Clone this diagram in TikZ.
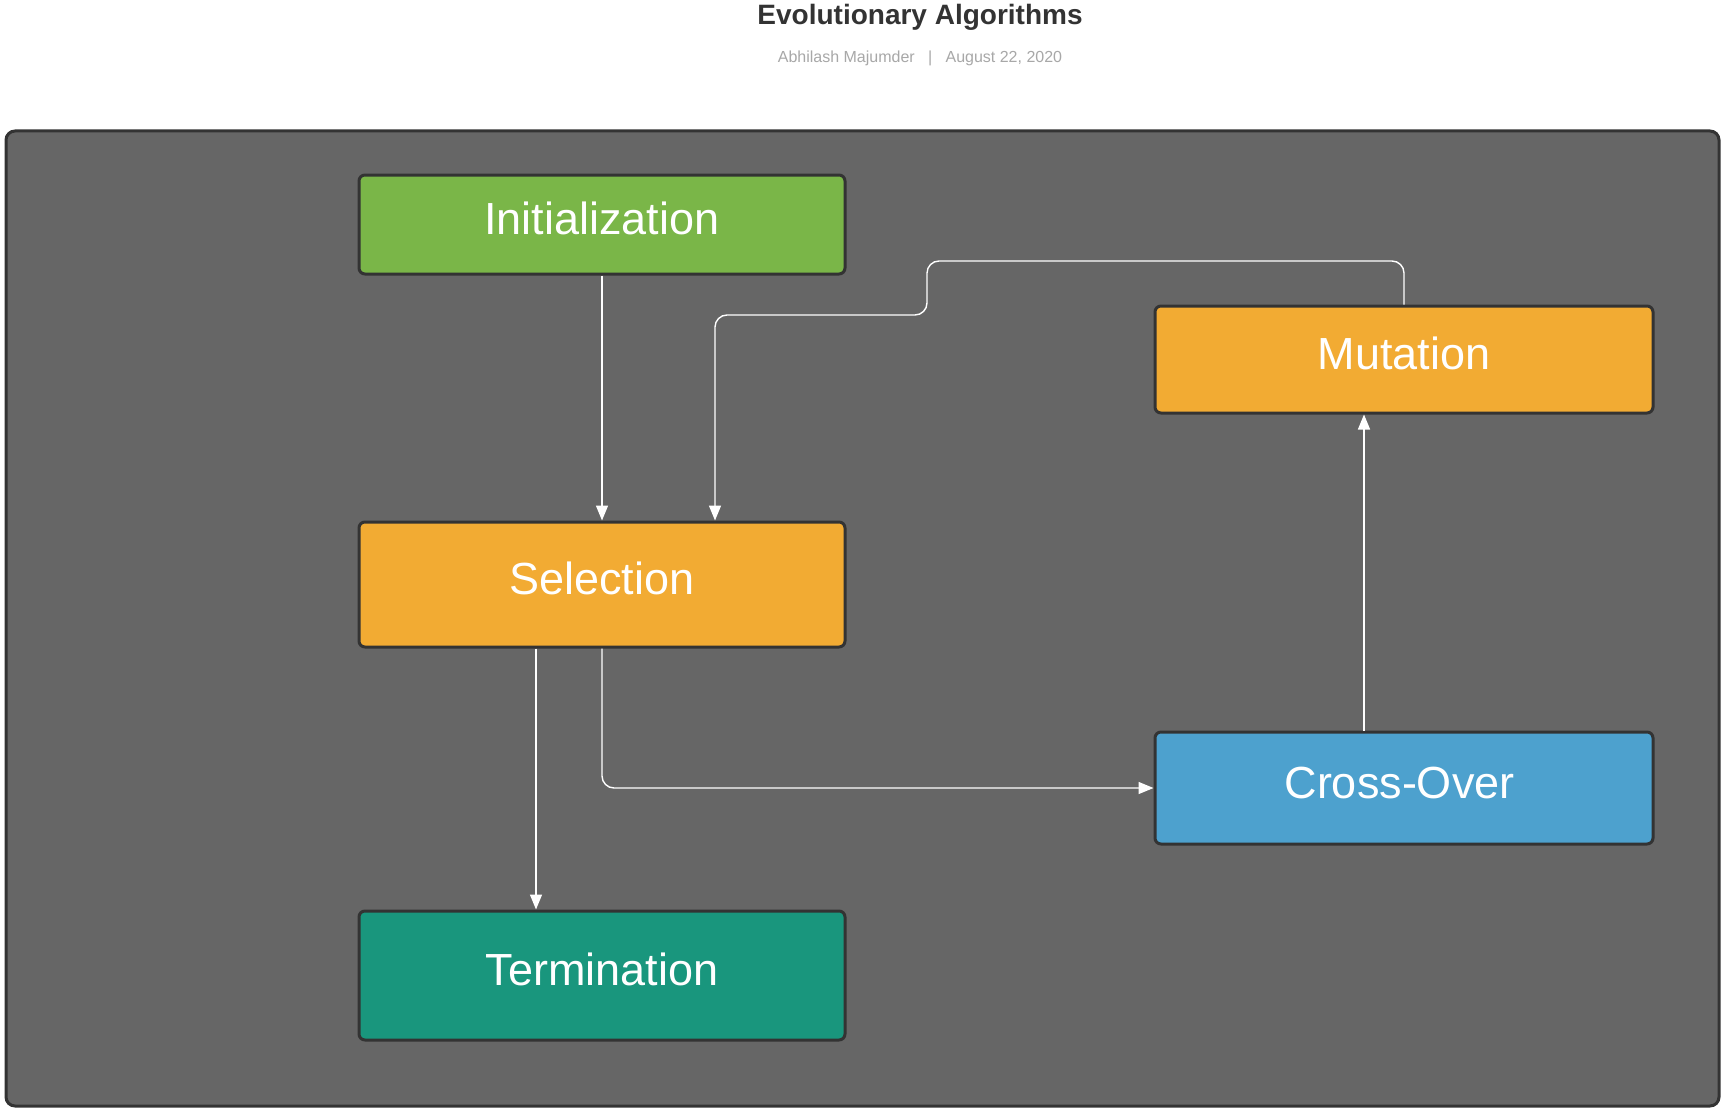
\documentclass[tikz,border=0pt]{standalone}
\usepackage{fontspec}
\setmainfont{Liberation Sans}
\usetikzlibrary{arrows.meta,calc}
\definecolor{panelbg}{HTML}{666666}
\definecolor{edgecol}{HTML}{333333}
\definecolor{initgreen}{HTML}{7AB648}
\definecolor{orangebox}{HTML}{F2AB33}
\definecolor{tealbox}{HTML}{19967D}
\definecolor{bluebox}{HTML}{4DA1CE}
\definecolor{titlecol}{HTML}{333333}
\definecolor{subcol}{HTML}{A8A8A8}
\begin{document}
\begin{tikzpicture}[x=1pt,y=-1pt,
  box/.style={draw=edgecol, line width=3pt, rounded corners=6pt, text=white,
    font=\fontsize{45}{54}\selectfont, text height=32pt, text depth=12pt, inner sep=0pt},
  conn/.style={draw=white, line width=1.4pt, rounded corners=12pt,
    -{Triangle[length=15pt,width=12pt]}}
]
\useasboundingbox (0,0) rectangle (1726,1113);
\fill[white] (0,0) rectangle (1726,1113);
% title
\node[font=\bfseries\fontsize{28}{32}\selectfont, text=titlecol] (title) at (920,17.5) {Evolutionary Algorithms};
\node[font=\fontsize{16}{19}\selectfont, text=subcol] (subtitle) at (920,58) {Abhilash Majumder\ \ \ |\ \ \ August 22, 2020};
% panel
\node[draw=edgecol, fill=panelbg, line width=3pt, rounded corners=9pt,
  minimum width=1713pt, minimum height=975pt, inner sep=0pt] (panel) at (862.5,618.5) {};
% boxes
\node[box, fill=initgreen, minimum width=486pt, minimum height=99pt] (init) at (602,224.5) {Initialization};
\node[box, fill=orangebox, minimum width=486pt, minimum height=125pt] (sel) at (602,584.5) {Selection};
\node[box, fill=tealbox, minimum width=486pt, minimum height=129pt] (term) at (602,975.5) {Termination};
\node[box, fill=orangebox, minimum width=498pt, minimum height=107pt] (mut) at (1404,359.5) {Mutation};
\node[box, fill=bluebox, minimum width=498pt, minimum height=112pt] (cross) at (1404,788) {\hspace*{-9pt}Cross-Over};
% connectors
\draw[conn] (init.south) -- (sel.north);
\draw[conn] (mut.north) -- (mut.north |- 0,261) -- (927,261) -- (927,315) -- (715,315) -- ([xshift=113pt]sel.north);
\draw[conn] ([xshift=-66pt]sel.south) -- ([xshift=-66pt]term.north);
\draw[conn] (sel.south) -- (sel.south |- cross.west) -- (cross.west);
\draw[conn] ([xshift=-40pt]cross.north) -- ([xshift=-40pt]mut.south);
\end{tikzpicture}
\end{document}
